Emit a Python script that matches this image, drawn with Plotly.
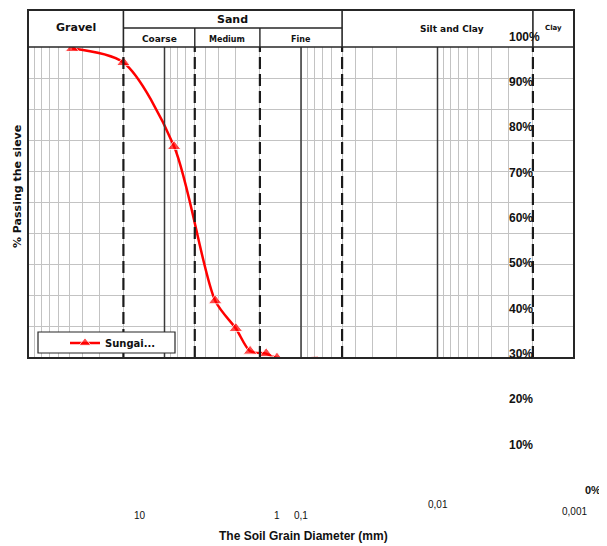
import numpy as np
import plotly.graph_objects as go

# ---------------- data ----------------
grain_mm = [4.75, 2.0, 0.85, 0.425, 0.3, 0.236, 0.18, 0.15, 0.075]
passing_pct = [99.5, 95.0, 68.0, 18.4, 9.5, 2.2, 1.4, 0.0, 0.0]
series_name = "Sungai..."

boundary_mm = [2.0, 0.6, 0.2, 0.05, 0.002]
decade_mm = [1.0, 0.1, 0.01]

main_groups = ["Gravel", "Sand", "Silt and Clay", "Clay"]
main_bounds = [(10, 2.0), (2.0, 0.05), (0.05, 0.002), (0.002, 0.001)]
sub_groups = ["Coarse", "Medium", "Fine"]
sub_bounds = [(2.0, 0.6), (0.6, 0.2), (0.2, 0.05)]

y_tick_values = [0, 10, 20, 30, 40, 50, 60, 70, 80, 90, 100]
y_tick_labels = ["0%", "10%", "20%", "30%", "40%", "50%", "60%", "70%", "80%", "90%", "100%"]
x_tick_values = [10, 1, 0.1, 0.01, 0.001]
x_tick_labels = ["10", "1", "0,1", "0,01", "0,001"]

x_title = "The Soil Grain Diameter (mm)"
y_title = "% Passing the sieve"

# ---------------- layout helpers ----------------
OFF = 8                      # page body margin
W, H = 607 - OFF, 546 - OFF
L, R, T, B = 28, 574, 47, 358   # plot area in window pixels
X_RANGE = [1, -3]


def px(X):
    return (X - L) / (R - L)


def py(Y):
    return (B - Y) / (B - T)


def xp(v):
    return (X_RANGE[0] - np.log10(v)) / (X_RANGE[0] - X_RANGE[1])


HEADER_TOP = py(10)
HEADER_MID = py(28)
DARK = "#262626"
GRID = "#c3c3c3"
HFONT = "DejaVu Sans"
NFONT = "Liberation Sans"

fig = go.Figure()
n = len(grain_mm)
fig.add_trace(go.Scatter(
    x=grain_mm, y=passing_pct, name="<b>%s</b>" % series_name,
    mode="lines+markers",
    line=dict(color="#ff0000", width=2.5, shape="spline", smoothing=0.8),
    marker=dict(symbol="triangle-up", size=[12] * (n - 1) + [0], color="#ff0000"),
))

shapes = []
for v in decade_mm:
    shapes.append(dict(type="line", xref="x", yref="paper", x0=v, x1=v, y0=0, y1=1,
                       line=dict(color="#3a3a3a", width=1.5), layer="above"))
for v in boundary_mm:
    shapes.append(dict(type="line", xref="x", yref="paper", x0=v, x1=v, y0=0, y1=1,
                       line=dict(color="white", width=2.5), layer="between"))
    shapes.append(dict(type="line", xref="x", yref="paper", x0=v, x1=v, y0=0, y1=1,
                       line=dict(color="#1a1a1a", width=2.2, dash="12px,5px"), layer="above"))
shapes.append(dict(type="rect", xref="paper", yref="paper", x0=0, x1=1, y0=0, y1=HEADER_TOP,
                   line=dict(color=DARK, width=2), fillcolor="rgba(0,0,0,0)", layer="above"))
shapes.append(dict(type="line", xref="paper", yref="paper", x0=0, x1=1, y0=1, y1=1,
                   line=dict(color=DARK, width=1.6), layer="above"))
shapes.append(dict(type="line", xref="paper", yref="paper",
                   x0=xp(sub_bounds[0][0]), x1=xp(sub_bounds[-1][1]), y0=HEADER_MID, y1=HEADER_MID,
                   line=dict(color=DARK, width=1.4), layer="above"))
for (a, b) in main_bounds[1:]:
    shapes.append(dict(type="line", xref="paper", yref="paper", x0=xp(a), x1=xp(a),
                       y0=1, y1=HEADER_TOP, line=dict(color=DARK, width=1.6), layer="above"))
for (a, b) in sub_bounds[1:]:
    shapes.append(dict(type="line", xref="paper", yref="paper", x0=xp(a), x1=xp(a),
                       y0=1, y1=HEADER_MID, line=dict(color=DARK, width=1.4), layer="above"))
shapes.append(dict(type="rect", xref="paper", yref="paper", x0=px(38), x1=px(175),
                   y0=py(353), y1=py(332), line=dict(color=DARK, width=1.2),
                   fillcolor="white", layer="above"))

annotations = []


def note(text, x, y, size, family, xref="paper", xanchor="center", **kw):
    d = dict(text=text, xref=xref, yref="paper", x=x, y=y, xanchor=xanchor,
             yanchor="middle", showarrow=False,
             font=dict(family=family, size=size, color="#111"))
    d.update(kw)
    annotations.append(d)


main_sizes = [11, 11, 9, 7]
main_y = [28, 20, 29, 28]
main_shift = [0, 0, 14, 0]
for name, (a, b), s, yy, sh in zip(main_groups, main_bounds, main_sizes, main_y, main_shift):
    note("<b>%s</b>" % name, (np.log10(a) + np.log10(b)) / 2, py(yy), s, HFONT,
         xref="x", xshift=sh)
sub_sizes = [9, 8, 8]
for name, (a, b), s in zip(sub_groups, sub_bounds, sub_sizes):
    note("<b>%s</b>" % name, (np.log10(a) + np.log10(b)) / 2, py(39), s, HFONT, xref="x")

# y tick labels as rendered in the reference (45.3 px apart, left aligned)
for v, lab in zip(y_tick_values, y_tick_labels):
    yy = 490 - 4.533 * v
    if v == 0:
        note("<b>%s</b>" % lab, px(583), py(yy), 11, NFONT, xanchor="left")
    else:
        note("<b>%s</b>" % lab, px(507), py(yy), 12, NFONT, xanchor="left")

# x tick labels
x_shift = [112, 112, 0, 0, 0]
x_lab_y = [515, 515, 515, 504, 511]
for v, lab, sh, yy in zip(x_tick_values, x_tick_labels, x_shift, x_lab_y):
    note(lab, np.log10(v), py(yy), 10, NFONT, xref="x", xshift=sh)

note("<b>%s</b>" % x_title, px(303), py(536), 12, "Liberation Sans Narrow, Liberation Sans")
note("<b>%s</b>" % y_title, px(17), py(187), 11, HFONT, textangle=-90)

fig.update_layout(
    width=W, height=H, autosize=False,
    margin=dict(l=L - OFF, r=W - (R - OFF), t=T - OFF, b=H - (B - OFF), pad=0),
    paper_bgcolor="white", plot_bgcolor="white",
    xaxis=dict(type="log", range=X_RANGE, dtick="D1", showgrid=True, gridcolor=GRID,
               gridwidth=1, showticklabels=False, ticks="", showline=False, zeroline=False),
    yaxis=dict(range=[0, 100], dtick=10, showgrid=True, gridcolor=GRID, gridwidth=1,
               showticklabels=False, ticks="", showline=False, zeroline=False),
    shapes=shapes, annotations=annotations,
    showlegend=True,
    legend=dict(x=px(65), y=py(343), xanchor="left", yanchor="middle",
                bgcolor="rgba(0,0,0,0)", borderwidth=0, itemwidth=30,
                font=dict(family=HFONT, size=10, color="#111")),
)

fig.write_html("out.html")
